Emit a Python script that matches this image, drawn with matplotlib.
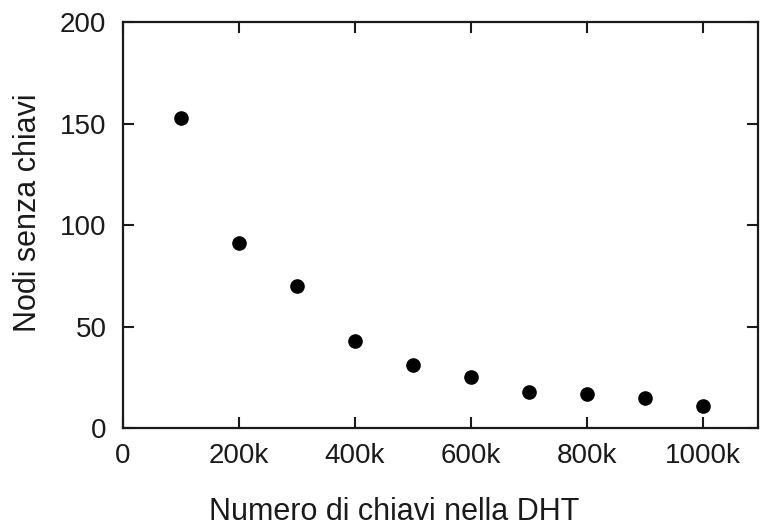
from matplotlib import pyplot as plt
from matplotlib.ticker import FuncFormatter

plt.rcParams["font.family"] = ["Liberation Sans", "DejaVu Sans"]

keys = [100e3, 200e3, 300e3, 400e3, 500e3, 600e3, 700e3, 800e3, 900e3, 1000e3]
empty_nodes = [153, 91, 70, 43, 31, 25, 18, 17, 15, 11]
x_ticks = [0, 200e3, 400e3, 600e3, 800e3, 1000e3]
y_ticks = [0, 50, 100, 150, 200]


def k_format(v, pos):
    return "0" if v == 0 else f"{int(v / 1000)}k"


fig = plt.figure(figsize=(7.6, 5.26), dpi=100)
ax = fig.add_axes([0.162, 0.186, 0.835, 0.772])
ax.plot(keys, empty_nodes, linestyle="none", marker="o", color="black", markersize=9.5)
ax.set_xlim(0, 1.095e6)
ax.set_ylim(0, 200)
ax.set_xticks(x_ticks)
ax.set_yticks(y_ticks)
ax.xaxis.set_major_formatter(FuncFormatter(k_format))
ax.tick_params(direction="in", length=8, width=1.5, top=True, right=True,
               labelsize=20, colors="#1a1a1a")
ax.tick_params(axis="x", pad=11)
ax.tick_params(axis="y", pad=12)
for spine in ax.spines.values():
    spine.set_linewidth(1.6)
    spine.set_color("#1a1a1a")
ax.set_xlabel("Numero di chiavi nella DHT", fontsize=22, labelpad=20, color="#1a1a1a")
ax.set_ylabel("Nodi senza chiavi", fontsize=22, labelpad=12, color="#1a1a1a")
# gnuplot puts the labels off the axes centre
ax.xaxis.label.set_x(0.427)
ax.yaxis.label.set_y(0.53)
fig.savefig("out.png", dpi=100)
